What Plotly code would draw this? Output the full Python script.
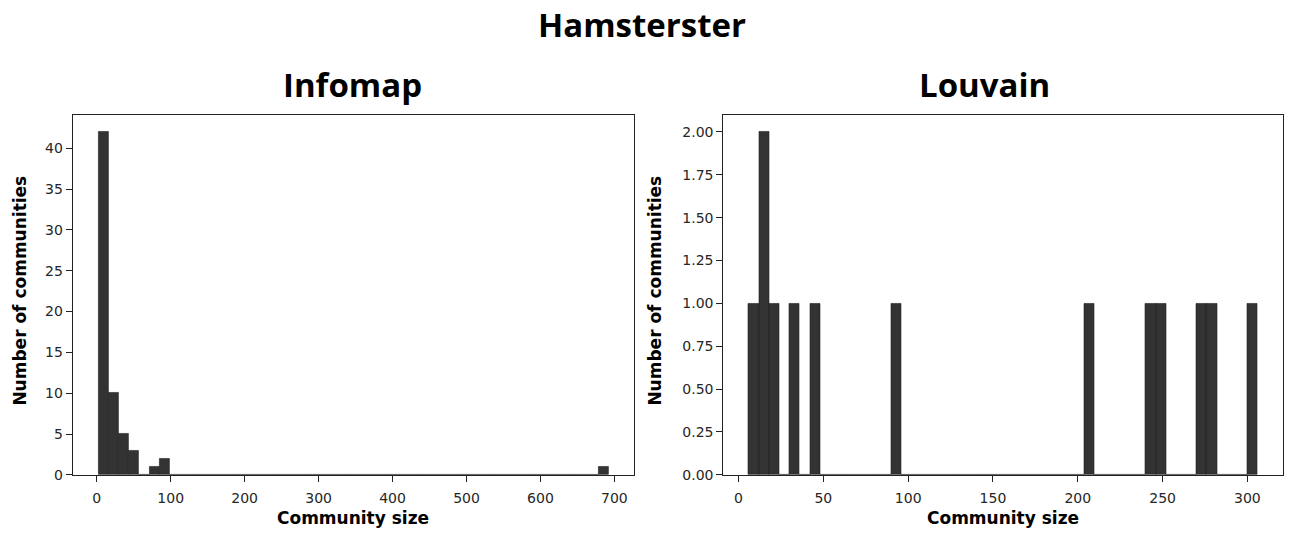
import numpy as np
import plotly.graph_objects as go

# ---- Data ----
infomap_counts = [42, 10, 5, 3, 0, 1, 2] + [0] * 42 + [1]   # 50 bins
infomap_min, infomap_max = 2, 692

louvain_counts = [0] * 50
for b in [0, 2, 4, 6, 14, 33, 39, 40, 44, 45, 49]:
    louvain_counts[b] = 1
louvain_counts[1] = 2
louvain_min, louvain_max = 6, 306

main_title = "Hamsterster"
left_title = "Infomap"
right_title = "Louvain"
x_label = "Community size"
y_label = "Number of communities"


def bins(lo, hi, n):
    edges = np.linspace(lo, hi, n + 1)
    return (edges[:-1] + edges[1:]) / 2, (hi - lo) / n


W, H = 1290, 538
bar_color = "#333333"
tick_font = dict(family="DejaVu Sans", size=14, color="#262626")

fig = go.Figure()
cx1, w1 = bins(infomap_min, infomap_max, len(infomap_counts))
cx2, w2 = bins(louvain_min, louvain_max, len(louvain_counts))
fig.add_trace(go.Bar(x=cx1, y=infomap_counts, width=w1, marker=dict(color=bar_color, line=dict(color="#222222", width=0.6)),
                     xaxis="x", yaxis="y", showlegend=False))
fig.add_trace(go.Bar(x=cx2, y=louvain_counts, width=w2, marker=dict(color=bar_color, line=dict(color="#222222", width=0.6)),
                     xaxis="x2", yaxis="y2", showlegend=False))

ydom = [(H - 482) / H, (H - 116.5) / H]
common_axis = dict(showline=True, mirror=True, linecolor="#222222", linewidth=1, ticks="outside",
                   ticklen=6, tickcolor="#222222", showgrid=False, zeroline=False, tickfont=tick_font)

pad1 = 0.05 * (infomap_max - infomap_min)
pad2 = 0.05 * (louvain_max - louvain_min)
fig.update_layout(
    width=W, height=H, margin=dict(l=0, r=0, t=0, b=0),
    paper_bgcolor="white", plot_bgcolor="white", bargap=0,
    xaxis=dict(domain=[72.7 / W, 634 / W], range=[infomap_min - pad1, infomap_max + pad1], dtick=100, anchor="y",
               ticklabelstandoff=4, **common_axis),
    yaxis=dict(domain=ydom, range=[0, max(infomap_counts) * 1.05], dtick=5, anchor="x", **common_axis),
    xaxis2=dict(domain=[723.3 / W, 1283 / W], range=[louvain_min - pad2, louvain_max + pad2], dtick=50, anchor="y2",
                ticklabelstandoff=4, **common_axis),
    yaxis2=dict(domain=ydom, range=[0, max(louvain_counts) * 1.05], dtick=0.25, tickformat=".2f", anchor="x2", **common_axis),
)

title_font = dict(family="Open Sans", size=33, color="black")
lab_font = dict(family="DejaVu Sans", size=17, color="black")
ann = [
    dict(text=f"<b>{main_title}</b>", x=642 / W, y=1 - 25 / H, font=title_font),
    dict(text=f"<b>{left_title}</b>", x=352 / W, y=1 - 86 / H, font=title_font),
    dict(text=f"<b>{right_title}</b>", x=984 / W, y=1 - 86 / H, font=title_font),
    dict(text=f"<b>{x_label}</b>", x=353 / W, y=1 - 526 / H, font=lab_font),
    dict(text=f"<b>{x_label}</b>", x=1003 / W, y=1 - 526 / H, font=lab_font),
    dict(text=f"<b>{y_label}</b>", x=20 / W, y=1 - 295 / H, font=lab_font, textangle=-90),
    dict(text=f"<b>{y_label}</b>", x=655 / W, y=1 - 295 / H, font=lab_font, textangle=-90),
]
for a in ann:
    a.update(xref="paper", yref="paper", showarrow=False, xanchor="center", yanchor="middle")
fig.update_layout(annotations=ann)

fig.write_html("out.html", config={"displayModeBar": False},
               post_script="document.body.style.margin='0';document.body.style.overflow='hidden';")
